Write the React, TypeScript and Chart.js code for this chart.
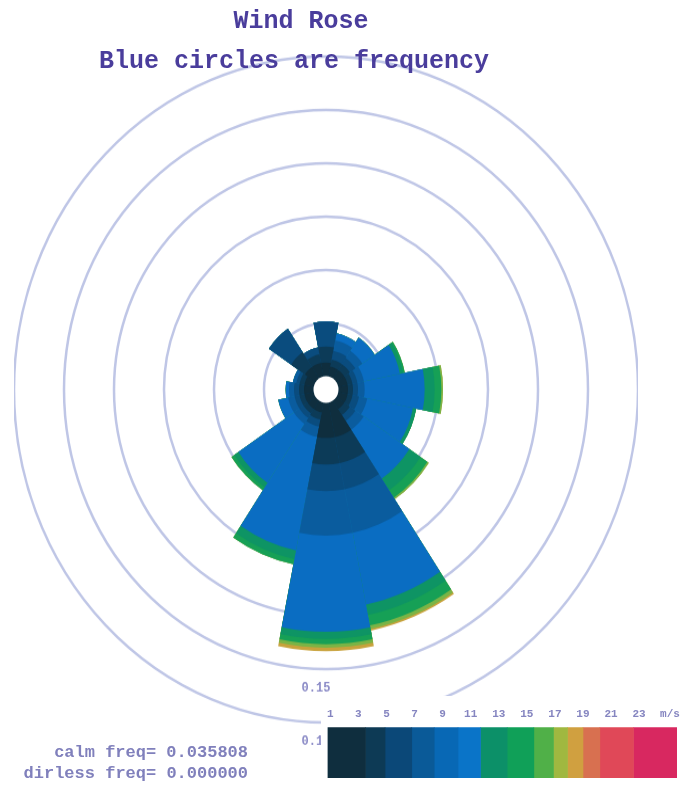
import React, { useEffect, useRef } from 'react';
import { Chart, registerables } from 'chart.js';

Chart.register(...registerables);

// ---------------- data ----------------
const DIRECTIONS = ['N', 'NNE', 'NE', 'ENE', 'E', 'ESE', 'SE', 'SSE', 'S', 'SSW', 'SW', 'WSW', 'W', 'WNW', 'NW', 'NNW'];
const SPEED_CLASSES = ['1-3', '3-5', '5-7', '7-9', '9-11', '11-13', '13-15', '15-17', '17-19'];
const SPEED_COLORS = ['#0f2e3e', '#0c3b58', '#0a4c7e', '#0a5c9e', '#0a6dc2', '#0e9464', '#16a056', '#7ab446', '#c8a23c'];

// frequency of each speed class, per direction (N .. NNW)
const FREQ_1_3 = [0.008, 0.006, 0.006, 0.006, 0.006, 0.006, 0.006, 0.020, 0.020, 0.006, 0.006, 0.006, 0.006, 0.006, 0.008, 0.008];
const FREQ_3_5 = [0.009, 0.004, 0.004, 0.003, 0.003, 0.003, 0.004, 0.015, 0.015, 0.004, 0.003, 0.003, 0.003, 0.003, 0.010, 0.005];
const FREQ_5_7 = [0.014, 0.005, 0.004, 0.003, 0.003, 0.004, 0.004, 0.015, 0.015, 0.004, 0.003, 0.003, 0.003, 0.002, 0.016, 0.004];
const FREQ_7_9 = [0, 0.006, 0.005, 0.004, 0.004, 0.005, 0.006, 0.025, 0.025, 0.006, 0.004, 0.004, 0.003, 0.002, 0, 0];
const FREQ_9_11 = [0, 0.004, 0.009, 0.022, 0.036, 0.028, 0.033, 0.041, 0.054, 0.065, 0.040, 0.006, 0.002, 0, 0, 0];
const FREQ_11_13 = [0, 0, 0, 0.002, 0.006, 0.002, 0.008, 0.006, 0.004, 0.005, 0.003, 0, 0, 0, 0, 0];
const FREQ_13_15 = [0, 0, 0, 0.001, 0.004, 0, 0.005, 0.006, 0.003, 0.003, 0.002, 0, 0, 0, 0, 0];
const FREQ_15_17 = [0, 0, 0, 0, 0.001, 0, 0.001, 0.002, 0.002, 0, 0, 0, 0, 0, 0, 0];
const FREQ_17_19 = [0, 0, 0, 0, 0, 0, 0, 0.001, 0.002, 0, 0, 0, 0, 0, 0, 0];

const RING_VALUES = [0.03, 0.06, 0.09, 0.12, 0.15, 0.18];
const RING_LABELS = ['0.03', '0.06', '0.09', '0.12', '0.15', '0.18'];
const R_MIN = -0.0072; // calm hole at the centre
const R_MAX = 0.18;

// colour bar
const CBAR_EDGES = [0.8, 3.5, 4.9, 6.8, 8.4, 10.1, 11.7, 13.6, 15.5, 16.9, 17.9, 19.0, 20.2, 22.6, 25.7];
const CBAR_COLORS = ['#0f2e3e', '#0d3a55', '#0b4878', '#0a5a98', '#0868b5', '#0a74c8', '#0c9068', '#10a058', '#50b048', '#a0b840', '#d0a040', '#d87050', '#e04858', '#d82860'];
const CBAR_TICKS = [1, 3, 5, 7, 9, 11, 13, 15, 17, 19, 21, 23, 25.2];
const CBAR_TICK_LABELS = ['1', '3', '5', '7', '9', '11', '13', '15', '17', '19', '21', '23', 'm/s'];

const CALM_FREQ = '0.035808';
const DIRLESS_FREQ = '0.000000';

const TITLE = 'Wind Rose';
const SUBTITLE = 'Blue circles are frequency';

const MONO = '"Liberation Mono", "DejaVu Sans Mono", monospace';

// ---------------- component ----------------
export default function App() {
  const roseRef = useRef<HTMLCanvasElement | null>(null);
  const barRef = useRef<HTMLCanvasElement | null>(null);

  useEffect(() => {
    const classes = [FREQ_1_3, FREQ_3_5, FREQ_5_7, FREQ_7_9, FREQ_9_11, FREQ_11_13, FREQ_13_15, FREQ_15_17, FREQ_17_19];
    const cumulative: number[][] = [];
    classes.forEach((arr, k) => {
      cumulative.push(arr.map((v, d) => (k === 0 ? 0 : cumulative[k - 1][d]) + v));
    });

    const roseDatasets = cumulative.map((data, k) => ({
      label: SPEED_CLASSES[k],
      data,
      backgroundColor: SPEED_COLORS[k],
      borderWidth: 0,
    }));

    const rosePlugin = {
      id: 'roseExtras',
      beforeDatasetsDraw(chart: any) {
        const s = chart.scales.r;
        const ctx = chart.ctx;
        ctx.save();
        ctx.font = `bold 12px ${MONO}`;
        ctx.fillStyle = '#8a8ac6';
        ctx.textAlign = 'center';
        ctx.textBaseline = 'middle';
        RING_VALUES.forEach((v, i) => {
          const d = s.getDistanceFromCenterForValue(v);
          ctx.fillText(RING_LABELS[i], s.xCenter - 10, s.yCenter + d + 18);
        });
        ctx.restore();
      },
      afterDatasetsDraw(chart: any) {
        const s = chart.scales.r;
        const ctx = chart.ctx;
        ctx.save();
        ctx.fillStyle = '#ffffff';
        ctx.beginPath();
        ctx.arc(s.xCenter, s.yCenter, s.getDistanceFromCenterForValue(0) + 0.5, 0, Math.PI * 2);
        ctx.fill();
        ctx.restore();
      },
    };

    const rose = new Chart(roseRef.current as HTMLCanvasElement, {
      type: 'polarArea',
      data: { labels: DIRECTIONS, datasets: roseDatasets },
      options: {
        responsive: false,
        animation: false,
        events: [],
        plugins: { legend: { display: false }, tooltip: { enabled: false } },
        scales: {
          r: {
            min: R_MIN,
            max: R_MAX,
            startAngle: -11.25,
            afterBuildTicks: (scale: any) => {
              scale.ticks = RING_VALUES.map((v) => ({ value: v }));
            },
            ticks: { display: false },
            grid: { circular: true, color: '#bfc6e6', lineWidth: 2.5 },
            angleLines: { display: false },
            pointLabels: { display: false },
          },
        },
      } as any,
      plugins: [rosePlugin],
    });

    const bar = new Chart(barRef.current as HTMLCanvasElement, {
      type: 'bar',
      data: {
        labels: [''],
        datasets: CBAR_COLORS.map((c, i) => ({
          data: [[CBAR_EDGES[i], CBAR_EDGES[i + 1]]],
          backgroundColor: c,
          borderWidth: 0,
          barPercentage: 1,
          categoryPercentage: 1,
          grouped: false,
        })),
      } as any,
      options: {
        indexAxis: 'y',
        responsive: false,
        animation: false,
        events: [],
        layout: { padding: { left: 4, right: 17, top: 6, bottom: 8 } },
        plugins: { legend: { display: false }, tooltip: { enabled: false } },
        scales: {
          x: {
            type: 'linear',
            position: 'top',
            min: CBAR_EDGES[0],
            max: CBAR_EDGES[CBAR_EDGES.length - 1],
            grid: { display: false, drawTicks: false },
            border: { display: false },
            afterBuildTicks: (scale: any) => {
              scale.ticks = CBAR_TICKS.map((v) => ({ value: v }));
            },
            ticks: {
              autoSkip: false,
              maxRotation: 0,
              padding: 6,
              color: '#8585c0',
              font: { family: MONO, size: 11, weight: 'bold' },
              callback: (_v: any, i: number) => CBAR_TICK_LABELS[i],
            },
          },
          y: { display: false },
        },
      } as any,
    });

    return () => {
      rose.destroy();
      bar.destroy();
    };
  }, []);

  const textStyle: React.CSSProperties = {
    position: 'absolute',
    fontFamily: MONO,
    fontWeight: 'bold',
    whiteSpace: 'pre',
  };

  return (
    <div style={{ position: 'absolute', left: 0, top: 0, width: 694, height: 786, background: '#ffffff', overflow: 'hidden' }}>
      <canvas
        ref={roseRef}
        width={624}
        height={700}
        style={{ position: 'absolute', left: 14, top: 16, width: 624, height: 747 }}
      />
      <canvas
        ref={barRef}
        width={373}
        height={90}
        style={{ position: 'absolute', left: 321, top: 696, width: 373, height: 90, background: '#ffffff' }}
      />
      <div style={{ ...textStyle, left: 0, width: 602, top: 9, textAlign: 'center', fontSize: 25, lineHeight: '25px', color: '#4a3d9c' }}>
        {TITLE}
      </div>
      <div style={{ ...textStyle, left: 0, width: 588, top: 49, textAlign: 'center', fontSize: 25, lineHeight: '25px', color: '#4a3d9c' }}>
        {SUBTITLE}
      </div>
      <div style={{ ...textStyle, left: 0, width: 248, top: 742, textAlign: 'right', fontSize: 17, lineHeight: '21px', color: '#8080bc' }}>
        {`calm freq= ${CALM_FREQ}\ndirless freq= ${DIRLESS_FREQ}`}
      </div>
    </div>
  );
}
